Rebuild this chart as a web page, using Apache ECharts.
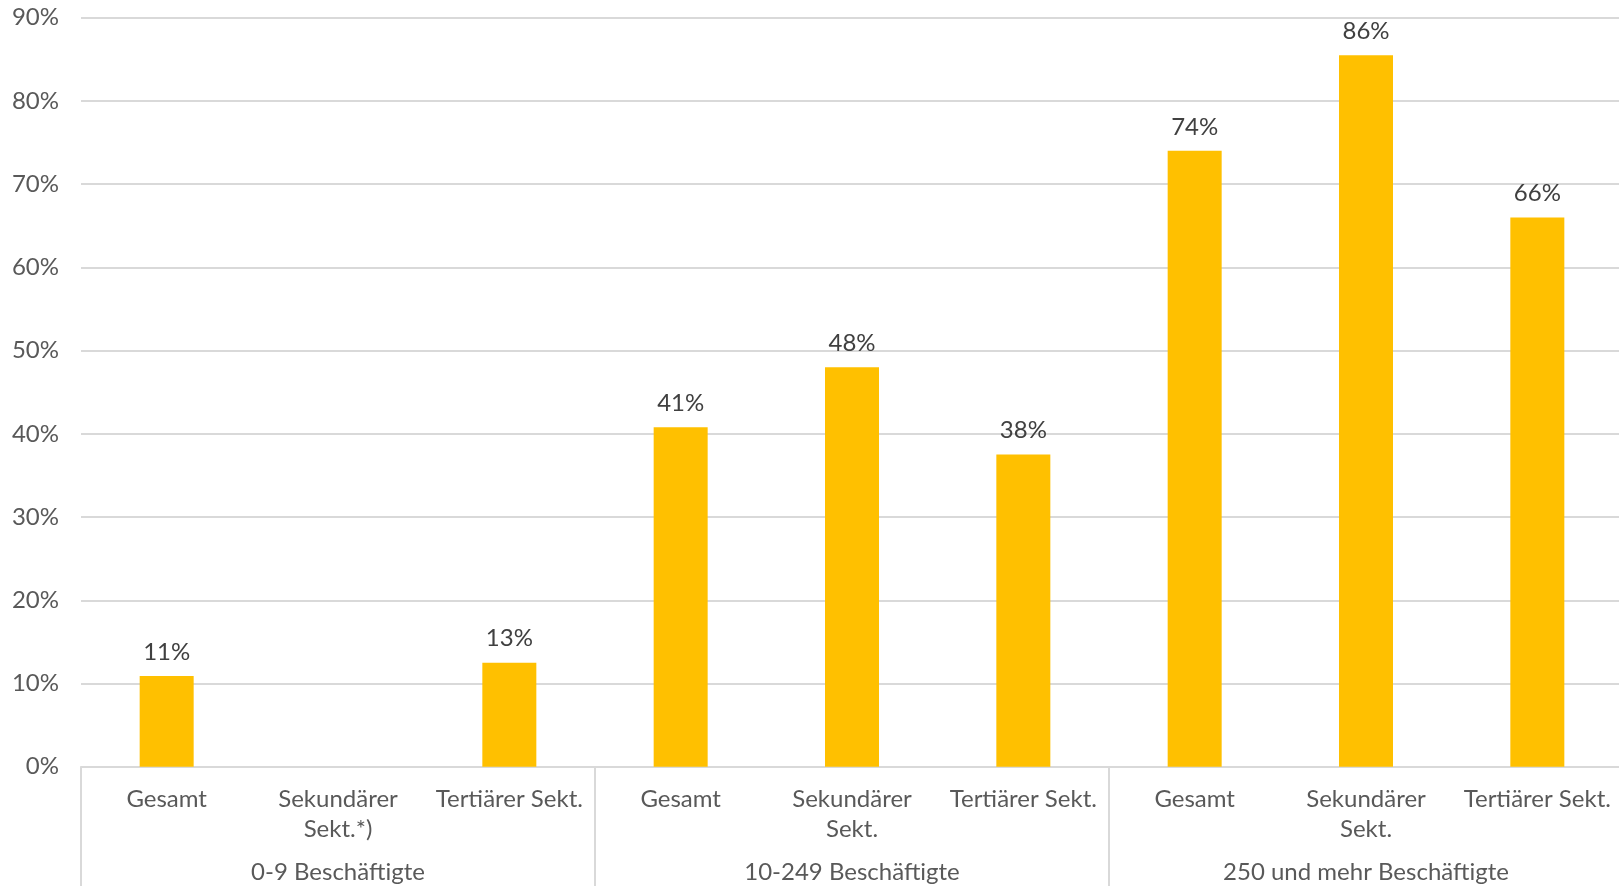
<!DOCTYPE html>
<html>
<head>
<meta charset="utf-8">
<script src="https://cdn.jsdelivr.net/npm/echarts@6/dist/echarts.min.js"></script>
<style>
html,body{margin:0;padding:0;background:#fff;}
#c{width:1619px;height:886px;}
</style>
</head>
<body>
<div id="c"></div>
<script>
const categories = ["Gesamt", "Sekundärer\nSekt.*)", "Tertiärer Sekt.", "Gesamt", "Sekundärer\nSekt.", "Tertiärer Sekt.", "Gesamt", "Sekundärer\nSekt.", "Tertiärer Sekt."];
const groups = ["0-9 Beschäftigte", "10-249 Beschäftigte", "250 und mehr Beschäftigte"];
const values = [10.9, null, 12.5, 40.8, 48.0, 37.5, 74.0, 85.5, 66.0];
const yTicks = [0, 10, 20, 30, 40, 50, 60, 70, 80, 90];

const FONT = 'Lato';
const FS = 24;
const chart = echarts.init(document.getElementById('c'), null, {renderer: 'canvas'});
chart.setOption({
  animation: false,
  textStyle: {fontFamily: FONT},
  grid: {left: 81, width: 1542, top: 17.7, bottom: 119.3, containLabel: false, outerBoundsMode: 'none'},
  xAxis: [
    {
      type: 'category',
      data: categories,
      position: 'bottom',
      axisLine: {show: true, lineStyle: {color: '#d9d9d9', width: 2}},
      axisTick: {show: false},
      axisLabel: {interval: 0, color: '#595959', fontSize: FS, fontFamily: FONT, margin: 18, lineHeight: 30}
    },
    {
      type: 'category',
      data: groups,
      position: 'bottom',
      offset: 0,
      axisLine: {show: false},
      axisTick: {show: true, length: 130, interval: 0, lineStyle: {color: '#d9d9d9', width: 2}},
      axisLabel: {interval: 0, color: '#595959', fontSize: FS, fontFamily: FONT, margin: 94}
    }
  ],
  yAxis: {
    type: 'value',
    min: yTicks[0],
    max: yTicks[yTicks.length - 1],
    interval: 10,
    axisLine: {show: false},
    axisTick: {show: false},
    splitLine: {lineStyle: {color: '#d9d9d9', width: 2}},
    axisLabel: {color: '#595959', fontSize: FS, fontFamily: FONT, margin: 22, formatter: v => v + '%'}
  },
  series: [{
    type: 'bar',
    xAxisIndex: 0,
    data: values,
    barWidth: 54,
    itemStyle: {color: '#FFC000'},
    label: {
      show: true, position: 'top', distance: 12,
      color: '#404040', fontSize: FS, fontFamily: FONT,
      formatter: p => p.value == null ? '' : Math.round(p.value) + '%'
    }
  }]
});
</script>
</body>
</html>
